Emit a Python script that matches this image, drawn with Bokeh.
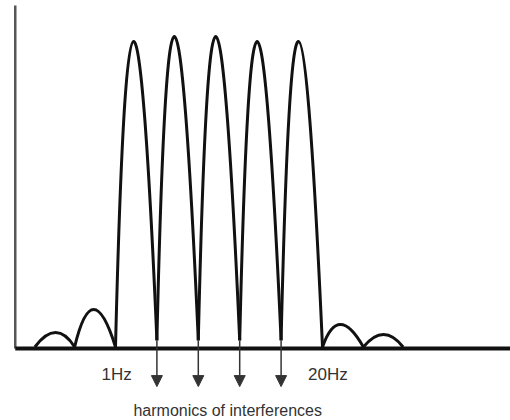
from bokeh.plotting import figure
from bokeh.models import Range1d, Arrow, NormalHead, ColumnDataSource
from bokeh.core.properties import value
from bokeh.embed import file_html
from bokeh.resources import INLINE

# ---- data (frequency-like units; 1 Hz -> 1, 20 Hz -> 20) ----
lobe_start   = [-6.4, -2.75, 1.0, 4.8, 8.6, 12.4, 16.2, 20.0, 23.75]
lobe_end     = [-2.75, 1.0, 4.8, 8.6, 12.4, 16.2, 20.0, 23.75, 27.4]
lobe_peak_x  = [-4.5, -1.0, 2.65, 6.4, 10.2, 14.0, 17.8, 21.65, 25.6]
lobe_peak_y  = [5.3, 13.0, 102.3, 104.0, 104.0, 102.3, 102.3, 8.0, 4.7]
lobe_start_y = [0.5, 0.5, 0.5, 2.7, 2.7, 2.7, 2.7, 0.5, 0.5]
lobe_end_y   = [0.5, 0.5, 2.7, 2.7, 2.7, 2.7, 0.5, 0.5, 0.5]

harmonic_x   = [4.8, 8.6, 12.4, 16.2]
tick_labels  = ["1Hz", "20Hz"]
tick_x       = [1.1, 20.5]
caption      = "harmonics of interferences"
caption_x    = 11.3

# ---- layout constants ----
X_MIN, X_MAX = -9.555, 37.255
Y_MIN, Y_MAX = -24.0, 116.0
AXIS_X = -8.2
FONT = value("Liberation Sans")

p = figure(width=510, height=420, x_range=Range1d(X_MIN, X_MAX),
           y_range=Range1d(Y_MIN, Y_MAX), output_backend="svg",
           toolbar_location=None, min_border=0)
p.axis.visible = False
p.grid.visible = False
p.outline_line_color = None
p.background_fill_color = "white"

# axes
p.segment(x0=[AXIS_X], y0=[0], x1=[AXIS_X], y1=[114.3], line_color="#555555", line_width=2.5)
p.segment(x0=[AXIS_X], y0=[0], x1=[X_MAX], y1=[0], line_color="#111111", line_width=4)

# lobes as parabolic arches
cx = [(4 * pk - a - b) / 2 for pk, a, b in zip(lobe_peak_x, lobe_start, lobe_end)]
cy = [(4 * pk - a - b) / 2 for pk, a, b in zip(lobe_peak_y, lobe_start_y, lobe_end_y)]
src = ColumnDataSource(dict(x0=lobe_start, y0=lobe_start_y, x1=lobe_end, y1=lobe_end_y, cx=cx, cy=cy))
p.quadratic(x0="x0", y0="y0", x1="x1", y1="y1", cx="cx", cy="cy", source=src,
            line_color="#111111", line_width=3)

# harmonic arrows
asrc = ColumnDataSource(dict(x=harmonic_x, ys=[2.7] * len(harmonic_x), ye=[-12.7] * len(harmonic_x)))
p.add_layout(Arrow(end=NormalHead(size=11, fill_color="#333333", line_color="#333333"),
                   x_start="x", y_start="ys", x_end="x", y_end="ye", source=asrc,
                   line_color="#333333", line_width=1.5))

# labels
p.text(x=tick_x, y=[-8.7, -8.7], text=tick_labels, text_align="center",
       text_baseline="alphabetic", text_font=FONT,
       text_font_size="17px", text_color="#333333")
p.text(x=[caption_x], y=[-20.8], text=[caption], text_align="center",
       text_baseline="alphabetic", text_font=FONT,
       text_font_size="16px", text_color="#333333")

open("out.html", "w").write(file_html(p, INLINE))
